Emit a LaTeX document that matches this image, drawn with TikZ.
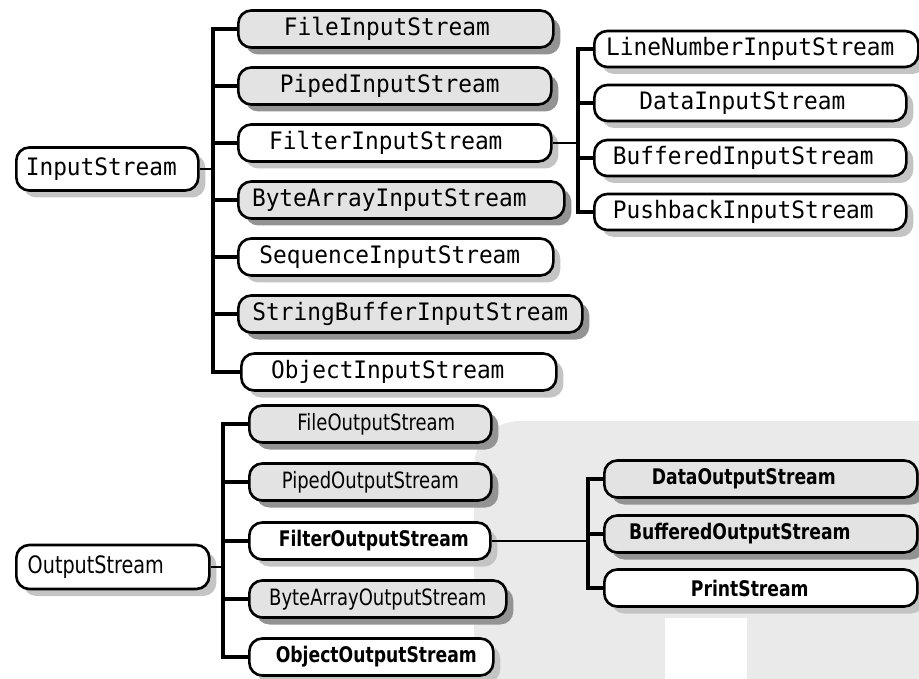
\documentclass[tikz,border=0pt]{standalone}
\usepackage{fontspec}
\usetikzlibrary{shadows}
\newfontfamily\instreamfont[FakeStretch=0.95]{DejaVu Sans Mono}
\newfontfamily\outstreamfont[FakeStretch=0.8]{DejaVu Sans}
\definecolor{boxgray}{HTML}{E3E3E3}
\definecolor{shadowdark}{HTML}{939393}
\definecolor{shadowlight}{HTML}{C4C4C4}
\definecolor{markgray}{HTML}{EAEAEA}
\tikzset{
  stream/.style={draw=black, line width=2.6pt, rounded corners=13pt,
    minimum height=37pt, inner sep=0pt, anchor=west},
  plainbox/.style={stream, fill=white,
    drop shadow={shadow xshift=7pt, shadow yshift=-7pt, fill=shadowlight, opacity=1}},
  shadedbox/.style={stream, fill=boxgray,
    drop shadow={shadow xshift=7pt, shadow yshift=-7pt, fill=shadowdark, opacity=1}},
  infont/.style={font=\instreamfont\fontsize{24}{26}\selectfont},
  outfont/.style={font=\outstreamfont\fontsize{22.5}{24}\selectfont},
  outbold/.style={font=\outstreamfont\bfseries\fontsize{21.5}{23}\selectfont},
  % move the label off centre: left by #1/2, or right by #1/2
  tleft/.style={execute at end node={\hspace*{#1}}},
  tright/.style={execute at begin node={\hspace*{#1}}},
  trunk/.style={line width=3.2pt, line join=miter},
  thinlink/.style={line width=1.8pt},
}
\begin{document}
\begin{tikzpicture}[x=1pt, y=-1pt]
\useasboundingbox (0,0) rectangle (919,679);

% light background emblem
\fill[markgray, rounded corners=46pt] (474,800) -- (474,421) -- (1000,421) -- (1000,800) -- cycle;
\fill[white] (665,618) rectangle (747,700);

% ---- InputStream hierarchy ----
\node[plainbox, infont, tleft=12pt, minimum width=182pt, minimum height=43pt] (in) at (15,169) {InputStream};

\node[shadedbox, infont, tleft=18pt, minimum width=315pt] (fis)   at (237,29)  {FileInputStream};
\node[shadedbox, infont, tleft=10pt, minimum width=313pt] (pis)   at (237,86)  {PipedInputStream};
\node[plainbox,  infont, tleft=18pt, minimum width=313pt] (fltis) at (237,143) {FilterInputStream};
\node[shadedbox, infont, tleft=24pt, minimum width=326pt] (bais)  at (237,200) {ByteArrayInputStream};
\node[plainbox,  infont, tleft=12pt, minimum width=315pt] (sis)   at (237,257) {SequenceInputStream};
\node[shadedbox, infont, minimum width=344pt] (sbis)  at (237,314) {StringBufferInputStream};
\node[plainbox,  infont, tleft=22pt, minimum width=315pt] (ois)   at (240,372) {ObjectInputStream};

\node[plainbox, infont, tleft=12pt, minimum width=324pt, minimum height=36pt] (lnis) at (593,49)  {LineNumberInputStream};
\node[plainbox, infont, tleft=16pt, minimum width=312pt, minimum height=36pt] (dis)  at (593,103) {DataInputStream};
\node[plainbox, infont, tleft=14pt, minimum width=312pt, minimum height=36pt] (bis)  at (593,158) {BufferedInputStream};
\node[plainbox, infont, tleft=14pt, minimum width=312pt, minimum height=36pt] (pbis) at (593,212) {PushbackInputStream};

\coordinate (tin) at (213,0);
\coordinate (tfin) at (578,0);
\draw[thinlink] (in.east) -- (in.east -| tin);
\draw[trunk] (fis.west) -- (fis.west -| tin) -- (ois.west -| tin) -- (ois.west);
\foreach \n in {pis,fltis,bais,sis,sbis}
  \draw[trunk] (\n.west -| tin) -- (\n.west);
\draw[thinlink] (fltis.east) -- (fltis.east -| tfin);
\draw[trunk] (lnis.west) -- (lnis.west -| tfin) -- (pbis.west -| tfin) -- (pbis.west);
\foreach \n in {dis,bis}
  \draw[trunk] (\n.west -| tfin) -- (\n.west);

% ---- OutputStream hierarchy ----
\node[plainbox, font=\outstreamfont\fontsize{24}{26}\selectfont, tleft=34pt, minimum width=193pt, minimum height=44pt] (out) at (15,567) {OutputStream};

\node[shadedbox, outfont, tright=12pt, minimum width=242pt] (fos)  at (248,424) {FileOutputStream};
\node[shadedbox, outfont, minimum width=242pt] (pos)  at (248,482) {PipedOutputStream};
\node[plainbox,  outbold, tright=8pt, minimum width=241pt] (flos) at (248,541) {FilterOutputStream};
\node[shadedbox, outfont, minimum width=257pt] (baos) at (248,599) {ByteArrayOutputStream};
\node[plainbox,  outbold, tright=10pt, minimum width=244pt] (oos)  at (248,657) {ObjectOutputStream};

\node[shadedbox, outbold, tleft=34pt, minimum width=313pt] (dos) at (603,479) {DataOutputStream};
\node[shadedbox, outbold, tleft=42pt, minimum width=313pt] (bos) at (603,534) {BufferedOutputStream};
\node[plainbox,  outbold, tleft=22pt, minimum width=313pt] (ps)  at (603,588) {PrintStream};

\coordinate (tout) at (223,0);
\coordinate (tfout) at (588,0);
\draw[thinlink] (out.east) -- (out.east -| tout);
\draw[trunk] (fos.west) -- (fos.west -| tout) -- (oos.west -| tout) -- (oos.west);
\foreach \n in {pos,flos,baos}
  \draw[trunk] (\n.west -| tout) -- (\n.west);
\draw[thinlink] (flos.east) -- (flos.east -| tfout);
\draw[trunk] (dos.west) -- (dos.west -| tfout) -- (ps.west -| tfout) -- (ps.west);
\draw[trunk] (bos.west -| tfout) -- (bos.west);
\end{tikzpicture}
\end{document}
